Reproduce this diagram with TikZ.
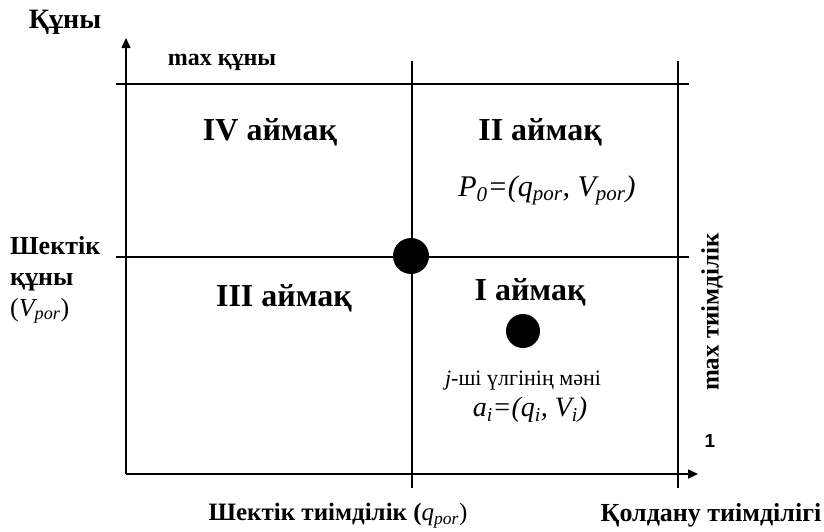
\documentclass[tikz,border=0pt]{standalone}
\usepackage{fontspec}
\setmainfont{Liberation Serif}
\newfontfamily\sansf{Liberation Sans}
\usetikzlibrary{arrows.meta}
\begin{document}
\begin{tikzpicture}[x=1pt,y=-1pt,
  axis/.style={line width=1.6pt,-{Triangle[length=10pt,width=9pt]}},
  grid/.style={line width=2pt},
  vgrid/.style={line width=1.8pt},
  dot/.style={circle,fill=black,inner sep=0pt},
  region/.style={font=\fontsize{32}{36}\selectfont\bfseries},
  formula/.style={font=\fontsize{30}{34}\selectfont\itshape}]
\useasboundingbox (0,0) rectangle (824,531);
% axes
\coordinate (O) at (126,474);
\coordinate (ytip) at (126,38);
\coordinate (xtip) at (698,474);
\draw[axis] (O) -- (ytip);
\draw[axis] (O) -- (xtip);
% grid lines
\coordinate (tl) at (116,84);
\coordinate (tr) at (689,84);
\coordinate (ml) at (116,257);
\coordinate (mr) at (689,257);
\coordinate (ct) at (412,61);
\coordinate (cb) at (412,488);
\coordinate (rt) at (678,61);
\coordinate (rb) at (678,488);
\draw[grid] (tl) -- (tr);
\draw[grid] (ml) -- (mr);
\draw[vgrid] (ct) -- (cb);
\draw[vgrid] (rt) -- (rb);
% dots
\node[dot,minimum size=36pt] (P0) at (411,256) {};
\node[dot,minimum size=34pt] (ai) at (523,331) {};
% labels
\node[font=\fontsize{28}{30}\selectfont\bfseries] (yl) at (65,22) {Құны};
\node[font=\fontsize{24}{26}\selectfont\bfseries] (maxq) at (222,62) {max құны};
\node[region] (r4) at (270,132) {IV аймақ};
\node[region] (r2) at (540,132) {II аймақ};
\node[region] (r3) at (284,298) {III аймақ};
\node[region] (r1) at (530,292) {I аймақ};
\node[formula] (p0t) at (547,190) {P\textsubscript{0}=(q\textsubscript{por}, V\textsubscript{por})};
\node[align=left,anchor=north west,inner sep=0pt,font=\fontsize{26}{31}\selectfont\bfseries] (vpor) at (10,236) {Шектік\\құны\\\mdseries(\textit{V\textsubscript{por}})};
\node[font=\fontsize{22}{24}\selectfont] (jt) at (523,381) {\textit{j}-ші үлгінің мәні};
\node[formula,font=\fontsize{28}{30}\selectfont\itshape] (ait) at (530,410) {a\textsubscript{i}=(q\textsubscript{i}, V\textsubscript{i})};
\node[font=\fontsize{25}{27}\selectfont\bfseries,rotate=90] (maxt) at (712,312) {max тиімділік};
\node[font=\fontsize{19}{21}\selectfont\sansf\bfseries] (one) at (710,441) {1};
\node[font=\fontsize{25}{27}\selectfont\bfseries] (qpor) at (338,516) {Шектік тиімділік (\mdseries\textit{q\textsubscript{por}})};
\node[font=\fontsize{26}{28}\selectfont\bfseries] (xl) at (711,515) {Қолдану тиімділігі};
\end{tikzpicture}
\end{document}
